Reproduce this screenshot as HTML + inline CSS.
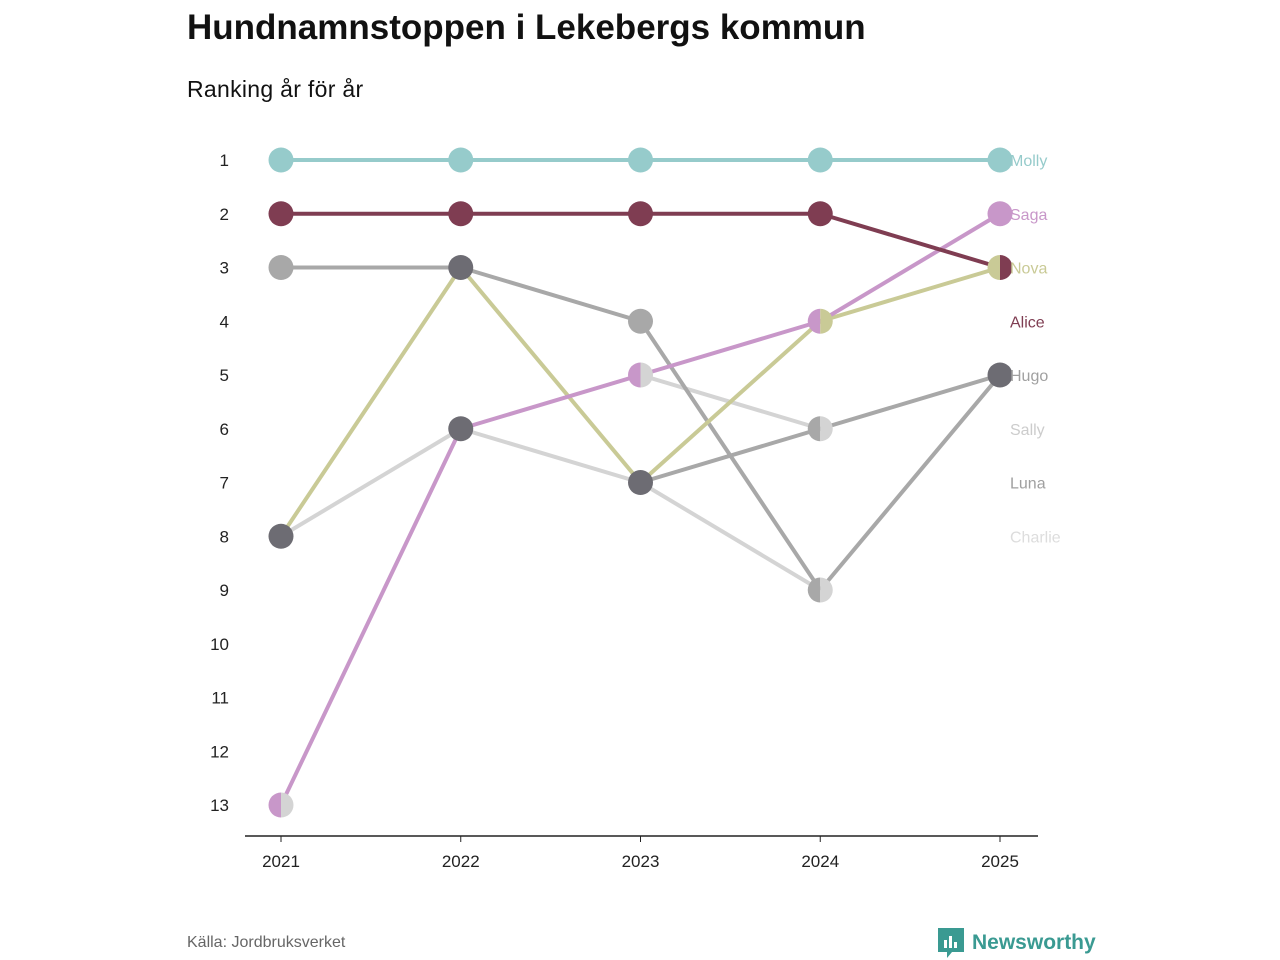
<!DOCTYPE html>
<html><head><meta charset="utf-8"><style>
body{margin:0;background:#fff;font-family:"Liberation Sans",sans-serif;}
#wrap{position:relative;width:1280px;height:960px;overflow:hidden}
h1{position:absolute;left:187px;top:8px;margin:0;font-size:35px;font-weight:bold;color:#111}
.sub{position:absolute;left:187px;top:76px;font-size:23px;letter-spacing:0.3px;color:#111}
.src{position:absolute;left:187px;top:934px;font-size:16px;color:#666}
.logo{position:absolute;left:938px;top:928px;font-size:21px;font-weight:bold;color:#3a9a92;display:flex;align-items:center;gap:8px}
</style></head><body>
<div id="wrap">
<h1>Hundnamnstoppen i Lekebergs kommun</h1>
<div class="sub">Ranking år för år</div>
<svg id="chart" width="1280" height="960" style="position:absolute;left:0;top:0"></svg>
<div class="src">Källa: Jordbruksverket</div>
<div class="logo"><svg width="26" height="30" viewBox="0 0 26 30"><path d="M0 0H26V24H14L9 30V24H0Z" fill="#3a9a92"/><rect x="6" y="12" width="3" height="8" fill="#fff"/><rect x="11" y="8" width="3" height="12" fill="#fff"/><rect x="16" y="14" width="3" height="6" fill="#fff"/></svg><span>Newsworthy</span></div>
</div>
<script>
const years=[2021,2022,2023,2024,2025];
const ranks=[1,2,3,4,5,6,7,8,9,10,11,12,13];
const names=["Molly","Saga","Nova","Hugo","Luna","Alice","Sally","Charlie"];
const molly=[1,1,1,1,1];
const saga=[13,6,5,4,2];
const nova=[8,3,7,4,3];
const hugo=[3,3,4,9,5];
const luna=[8,null,7,6,5];
const alice=[2,2,2,2,3];
const sally=[8,6,7,9,null];
const charlie=[13,null,5,6,null];
const labelRanks=[1,2,3,4,5,6,7,8];
const labelOrder=["Molly","Saga","Nova","Alice","Hugo","Sally","Luna","Charlie"];
const series={Molly:molly,Saga:saga,Nova:nova,Hugo:hugo,Luna:luna,Alice:alice,Sally:sally,Charlie:charlie};
const colors={Molly:"#96cbcb",Saga:"#c897c9",Nova:"#c9ca96",Hugo:"#a8a8a8",Luna:"#a8a8a8",Alice:"#7f3d52",Sally:"#d4d4d4",Charlie:"#d4d4d4"};
const labelColors={Molly:"#96cbcb",Saga:"#c897c9",Nova:"#c9ca96",Hugo:"#a0a0a0",Luna:"#a0a0a0",Alice:"#7f3d52",Sally:"#cccccc",Charlie:"#dddddd"};
const darkPts=[[0,8],[1,3],[1,6],[2,7],[4,5]];
const X=i=>281+i*179.75, Y=r=>160+(r-1)*53.75;
const svg=document.getElementById('chart'),NS="http://www.w3.org/2000/svg";
function mk(t,a,p){const e=document.createElementNS(NS,t);for(const k in a)e.setAttribute(k,a[k]);(p||svg).appendChild(e);return e;}
ranks.forEach(r=>{const t=mk('text',{x:229,y:Y(r)+6,'text-anchor':'end','font-size':17,fill:'#222'});t.textContent=r;

});
const ax=mk('line',{x1:245,x2:1038,y1:836,y2:836,stroke:'#222','stroke-width':1.5});


years.forEach((y,i)=>{mk('line',{x1:X(i),x2:X(i),y1:836,y2:842,stroke:'#222'});
const t=mk('text',{x:X(i),y:867,'text-anchor':'middle','font-size':17,fill:'#222'});t.textContent=y;

});
const drawOrder=["Charlie","Sally","Luna","Hugo","Nova","Saga","Alice","Molly"];
drawOrder.forEach(n=>{const v=series[n];for(let i=0;i<v.length-1;i++){if(v[i]==null||v[i+1]==null)continue;
const l=mk('line',{x1:X(i),y1:Y(v[i]),x2:X(i+1),y2:Y(v[i+1]),stroke:colors[n],'stroke-width':4});

}});
years.forEach((y,i)=>{const m={};names.forEach(n=>{const r=series[n][i];if(r!=null)(m[r]=m[r]||[]).push(n);});
for(const r in m){const list=m[r],cx=X(i),cy=Y(+r),R=12.5;
const dark=list.length>=3||darkPts.some(p=>p[0]==i&&p[1]==+r);
let g=mk('g',{});


if(dark||list.length==1){mk('circle',{cx,cy,r:R,fill:dark?'#6d6c73':colors[list[0]]},g);}
else{mk('path',{d:`M${cx} ${cy-R}A${R} ${R} 0 0 0 ${cx} ${cy+R}Z`,fill:colors[list[0]]},g);
mk('path',{d:`M${cx} ${cy-R}A${R} ${R} 0 0 1 ${cx} ${cy+R}Z`,fill:colors[list[1]]},g);}}});
labelOrder.forEach((n,k)=>{const t=mk('text',{x:1010,y:Y(labelRanks[k])+6,'font-size':16,fill:labelColors[n]});t.textContent=n;

});
</script>
</body></html>
